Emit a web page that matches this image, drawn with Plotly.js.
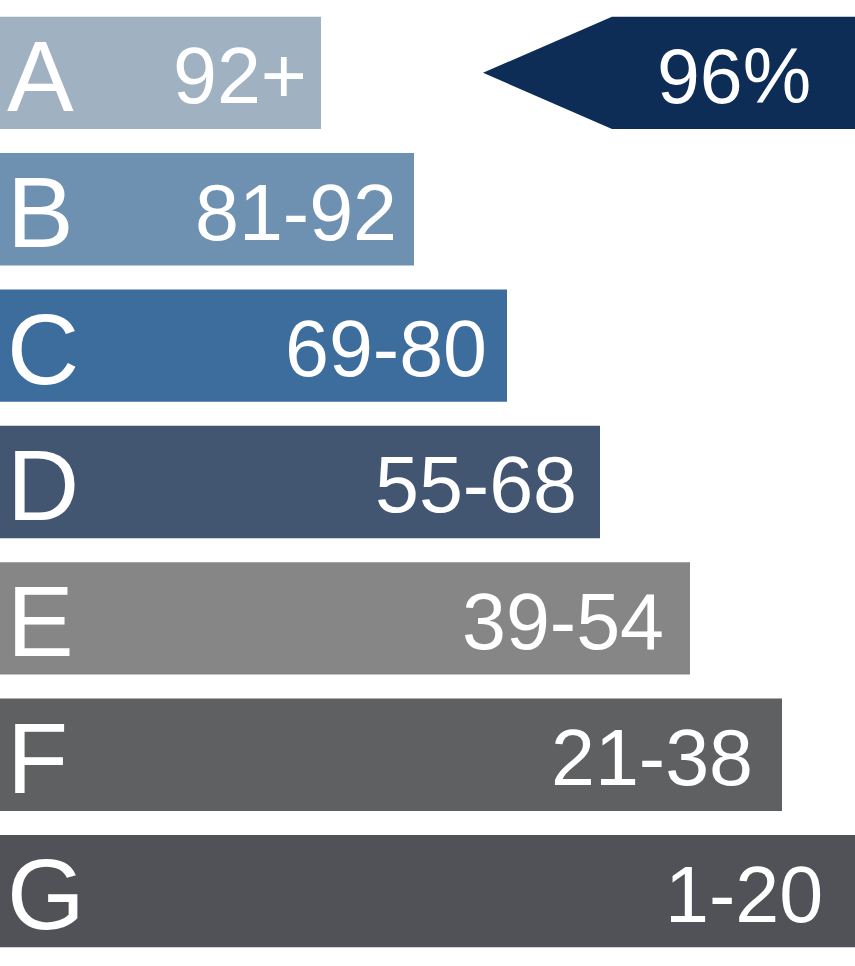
<!DOCTYPE html>
<html>
<head>
<meta charset="utf-8">
<script src="https://cdn.plot.ly/plotly-3.0.1.min.js"></script>
<style>html,body{margin:0;padding:0;background:#fff;}#chart{width:855px;height:966px;}</style>
</head>
<body>
<div id="chart"></div>
<script>
// Data
const grades = ['A', 'B', 'C', 'D', 'E', 'F', 'G'];
const ranges = ['92+', '81-92', '69-80', '55-68', '39-54', '21-38', '1-20'];
const barLengths = [321, 414, 507, 600, 690, 782, 855];
const barColors = ['#a0b2c1', '#6e90b1', '#3d6d9c', '#425672', '#868686', '#5f6062', '#515257'];
const ratingGrade = 'A';
const ratingLabel = '96%';
const arrowTip = 483;
const arrowNotch = 612;
const arrowEnd = 855;

const FONT = 'Liberation Sans, Arial, Helvetica, sans-serif';
const halfBar = 0.412;

const trace = {
  type: 'bar',
  orientation: 'h',
  y: grades,
  x: barLengths,
  width: halfBar * 2,
  marker: { color: barColors, line: { width: 0 } },
  hoverinfo: 'none'
};

const annotations = [];
grades.forEach((g, i) => {
  annotations.push({
    x: 0, y: g, xref: 'x', yref: 'y', text: g, showarrow: false,
    xanchor: 'left', yanchor: 'middle', xshift: 5, yshift: -3,
    font: { family: FONT, size: 100, color: '#ffffff' }
  });
  annotations.push({
    x: barLengths[i], y: g, xref: 'x', yref: 'y', text: ranges[i], showarrow: false,
    xanchor: 'right', yanchor: 'middle', xshift: -(12 + 3 * i), yshift: -3,
    font: { family: FONT, size: 79, color: '#ffffff' }
  });
});

const ri = grades.indexOf(ratingGrade);
annotations.push({
  x: (arrowNotch + arrowEnd) / 2, y: ratingGrade, xref: 'x', yref: 'y', text: ratingLabel,
  showarrow: false, xanchor: 'center', yanchor: 'middle', yshift: -3,
  font: { family: FONT, size: 77, color: '#ffffff' }
});

const shapes = [{
  type: 'path', xref: 'x', yref: 'y',
  path: `M ${arrowTip} ${ri} L ${arrowNotch} ${ri - halfBar} L ${arrowEnd} ${ri - halfBar} L ${arrowEnd} ${ri + halfBar} L ${arrowNotch} ${ri + halfBar} Z`,
  fillcolor: '#0d2d56', line: { width: 0 }, layer: 'above'
}];

const layout = {
  width: 855, height: 966,
  margin: { l: 0, r: 0, t: 0, b: 0, pad: 0 },
  paper_bgcolor: '#ffffff', plot_bgcolor: '#ffffff',
  showlegend: false,
  xaxis: { range: [0, 855], visible: false, fixedrange: true },
  yaxis: { type: 'category', categoryorder: 'array', categoryarray: grades,
           range: [6.549, -0.534], visible: false, fixedrange: true },
  annotations: annotations,
  shapes: shapes
};

Plotly.newPlot('chart', [trace], layout, { displayModeBar: false, staticPlot: true });
</script>
</body>
</html>
